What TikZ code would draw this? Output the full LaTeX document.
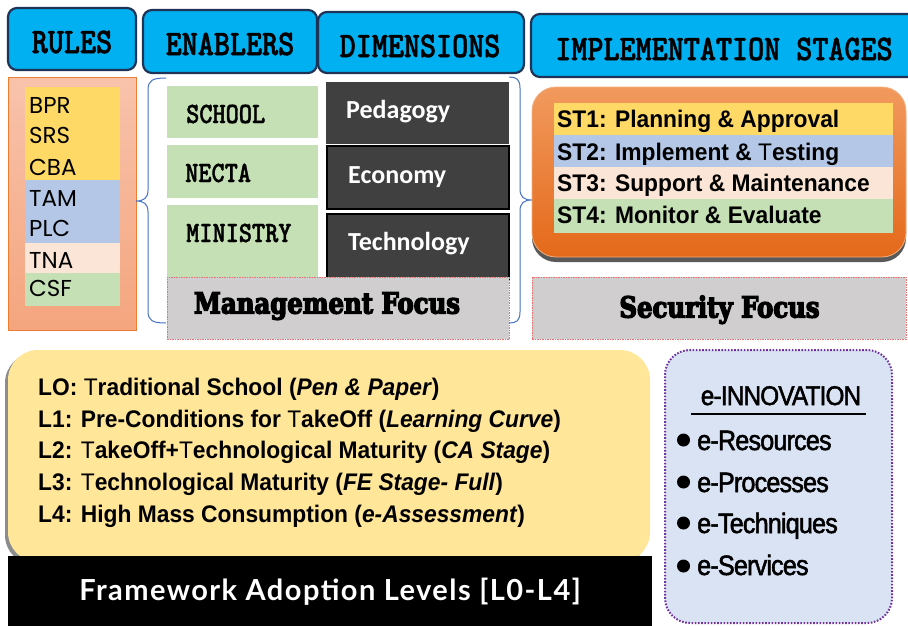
\documentclass[tikz,border=0pt]{standalone}
\usepackage{fontspec}
\usepackage{graphicx}
\usetikzlibrary{shadows}
\setmainfont{Liberation Sans}
\newfontfamily\hdrfont{lmmonolt10-bold.otf}[FakeStretch=0.85]
\newfontfamily\rulefont{Poppins}
\newfontfamily\dimfont{Carlito}
\newfontfamily\focusfont{DejaVu Serif Bold}[FakeStretch=0.84]
\newfontfamily\stfont{Liberation Sans}[FakeStretch=0.95]
\newfontfamily\levelfont{Liberation Sans}[FakeStretch=0.95]
\newfontfamily\fwfont{Lato}[LetterSpace=5]
\newfontfamily\innofont{Liberation Sans}[FakeStretch=0.9,LetterSpace=-3]
\newcommand\heavytext[2][1.3]{\special{pdf:literal direct 2 Tr #1 w}#2\special{pdf:literal direct 0 Tr}}
\definecolor{hdrfill}{HTML}{00B0F0}
\definecolor{hdrline}{HTML}{1F3356}
\definecolor{ruleTop}{HTML}{F8C3AC}
\definecolor{ruleBot}{HTML}{F4A57E}
\definecolor{ruleLine}{HTML}{ED7D31}
\definecolor{cYel}{HTML}{FFD966}
\definecolor{cBlu}{HTML}{B4C7E7}
\definecolor{cPea}{HTML}{FBE5D6}
\definecolor{cGrn}{HTML}{C5E0B4}
\definecolor{dimfill}{HTML}{404040}
\definecolor{focfill}{HTML}{D0CECE}
\definecolor{focline}{HTML}{F07070}
\definecolor{orTop}{HTML}{F19A5E}
\definecolor{orBot}{HTML}{E4691A}
\definecolor{lvlfill}{HTML}{FFE699}
\definecolor{innofill}{HTML}{DAE3F3}
\definecolor{innoline}{HTML}{7030A0}
\definecolor{braceblue}{HTML}{4472C4}
\tikzset{
  box/.style={anchor=north west, inner sep=0pt, outer sep=0pt},
  hdr/.style={box, draw=hdrline, line width=2.2pt, fill=hdrfill, rounded corners=9pt},
  hdrtxt/.style={anchor=base, inner sep=0pt, text=black, font=\hdrfont\fontsize{36pt}{36pt}\selectfont},
  entxt/.style={anchor=base west, inner sep=0pt, text=black, font=\hdrfont\fontsize{29.5pt}{30pt}\selectfont},
  ruletxt/.style={anchor=base west, inner sep=0pt, font=\rulefont\fontsize{23pt}{24pt}\selectfont},
  dimtxt/.style={anchor=base west, inner sep=0pt, text=white, font=\dimfont\bfseries\fontsize{26pt}{27pt}\selectfont},
  focbox/.style={box, fill=focfill, draw=focline, line width=0.6pt, dash pattern=on 1.5pt off 1pt},
  foctxt/.style={anchor=base, inner sep=0pt, text=black, font=\focusfont\fontsize{29pt}{30pt}\selectfont},
  sttxt/.style={anchor=base west, inner sep=0pt, font=\stfont\bfseries\fontsize{24pt}{25pt}\selectfont},
  lvltxt/.style={anchor=base west, inner sep=0pt, font=\levelfont\bfseries\fontsize{24pt}{25pt}\selectfont},
  innotxt/.style={anchor=base west, inner sep=0pt, text=black, font=\innofont\fontsize{28pt}{28pt}\selectfont},
  bullet/.style={circle, fill=black, inner sep=0pt, minimum size=13pt},
  bracepath/.style={draw=braceblue, line width=1pt}
}
\begin{document}
\begin{tikzpicture}[x=1pt,y=-1pt]
\useasboundingbox (0,0) rectangle (908,625);
% ---------- headers
\node[hdr, minimum width=128pt, minimum height=62pt] (hRules) at (8,8) {};
\node[hdr, minimum width=174pt, minimum height=63pt] (hEnab) at (143,10) {};
\node[hdr, minimum width=206pt, minimum height=61pt] (hDim) at (318,12) {};
\node[hdr, minimum width=390pt, minimum height=63pt] (hImpl) at (531,14) {};
\node[hdrtxt] (tRules) at (72,53) {\heavytext[0.5]{RULES}};
\node[hdrtxt] (tEnab) at (230,55) {\heavytext[0.5]{ENABLERS}};
\node[hdrtxt] (tDim) at (420,57) {\heavytext[0.5]{DIMENSIONS}};
\node[hdrtxt] (tImpl) at (724,60) {\heavytext[0.5]{IMPLEMENTATION STAGES}};
% ---------- rules column
\node[box, draw=ruleLine, line width=0.8pt, top color=ruleTop, bottom color=ruleBot, minimum width=128pt, minimum height=253pt] (rulesBody) at (8,77) {};
\node[box, fill=cYel, minimum width=95pt, minimum height=93pt] (rY) at (25,87) {};
\node[box, fill=cBlu, minimum width=95pt, minimum height=63pt] (rB) at (25,180) {};
\node[box, fill=cPea, minimum width=95pt, minimum height=30pt] (rP) at (25,243) {};
\node[box, fill=cGrn, minimum width=95pt, minimum height=33pt] (rG) at (25,273) {};
\node[ruletxt] (tBPR) at (29,113) {BPR};
\node[ruletxt] (tSRS) at (29,143.5) {SRS};
\node[ruletxt] (tCBA) at (29,175.5) {CBA};
\node[ruletxt] (tTAM) at (29,206.5) {TAM};
\node[ruletxt] (tPLC) at (29,236.5) {PLC};
\node[ruletxt] (tTNA) at (29,268.5) {TNA};
\node[ruletxt] (tCSF) at (29,296.5) {CSF};
% ---------- enablers
\node[box, fill=cGrn, minimum width=151pt, minimum height=52pt] (eS) at (167,86) {};
\node[box, fill=cGrn, minimum width=151pt, minimum height=53pt] (eN) at (167,145) {};
\node[box, fill=cGrn, minimum width=151pt, minimum height=72pt] (eM) at (167,205) {};
\node[entxt] (tSchool) at (186,123) {\heavytext[0.4]{SCHOOL}};
\node[entxt] (tNecta) at (185,182) {\heavytext[0.4]{NECTA}};
\node[entxt] (tMin) at (186,242) {\heavytext[0.4]{MINISTRY}};
% ---------- dimensions
\node[box, fill=dimfill, minimum width=183pt, minimum height=62pt] (dP) at (326,82) {};
\node[box, fill=dimfill, draw=black, line width=2pt, minimum width=182pt, minimum height=63pt] (dE) at (327,146) {};
\node[box, fill=dimfill, draw=black, line width=2pt, minimum width=182pt, minimum height=66pt] (dT) at (327,214) {};
\node[dimtxt] (tPed) at (346,118.5) {Pedagogy};
\node[dimtxt] (tEco) at (348,183.5) {Economy};
\node[dimtxt] (tTec) at (348,250.5) {Technology};
% ---------- focus boxes
\node[focbox, minimum width=342pt, minimum height=62pt] (mFocus) at (167,277) {};
\node[foctxt] (tMF) at (327,313.5) {\heavytext{Management Focus}};
\node[focbox, minimum width=374pt, minimum height=62pt] (sFocus) at (532,277) {};
\node[foctxt] (tSF) at (719.5,317.5) {\heavytext{Security Focus}};
% ---------- braces
\coordinate (lbT) at (166,78);
\coordinate (lbM) at (136,201);
\coordinate (lbB) at (166,323);
\draw[bracepath] (lbT) .. controls (153,78) and (148,80) .. (148,90) -- (148,190)
   .. controls (148,198) and (144,201) .. (lbM)
   .. controls (144,201) and (148,204) .. (148,212) -- (148,311)
   .. controls (148,321) and (153,323) .. (lbB);
\coordinate (rbT) at (509,77);
\coordinate (rbM) at (532,200);
\coordinate (rbB) at (509,323);
\draw[bracepath] (rbT) .. controls (516,77) and (520,79) .. (520,88) -- (520,189)
   .. controls (520,197) and (524,200) .. (rbM)
   .. controls (524,200) and (520,203) .. (520,211) -- (520,312)
   .. controls (520,321) and (516,323) .. (rbB);
% ---------- implementation stages
\node[box, rounded corners=24pt, top color=orTop, bottom color=orBot, draw=orTop!80!white, line width=0.8pt,
      drop shadow={shadow xshift=0pt, shadow yshift=-5pt, fill=black!65, opacity=1},
      minimum width=374pt, minimum height=170pt] (orBox) at (532,87) {};
\node[box, fill=cYel, minimum width=339pt, minimum height=32pt] (sY) at (554,103) {};
\node[box, fill=cBlu, minimum width=339pt, minimum height=32pt] (sB) at (554,135) {};
\node[box, fill=cPea, minimum width=339pt, minimum height=32pt] (sP) at (554,167) {};
\node[box, fill=cGrn, minimum width=339pt, minimum height=34pt] (sG) at (554,199) {};
\node[sttxt] (tST1) at (557,127.5) {ST1: Planning \& Approval};
\node[sttxt] (tST2) at (557,160.5) {ST2: Implement \& {\mdseries T}esting};
\node[sttxt] (tST3) at (557,191.5) {ST3: Support \& Maintenance};
\node[sttxt] (tST4) at (557,223.5) {ST4: Monitor \& Evaluate};
% ---------- adoption levels
\node[box, rounded corners=30pt, fill=lvlfill,
      drop shadow={shadow xshift=-3pt, shadow yshift=-3pt, fill=black!45, opacity=1},
      minimum width=642pt, minimum height=212pt] (lvlBox) at (8,350) {};
\node[box, fill=black, minimum width=644pt, minimum height=70pt] (fwBar) at (8,556) {};
\node[lvltxt] (tL0) at (38,395) {LO: {\mdseries T}raditional School (\textit{Pen \& Paper})};
\node[lvltxt] (tL1) at (38,427) {L1: Pre-Conditions for {\mdseries T}akeOff (\textit{Learning Curve})};
\node[lvltxt] (tL2) at (38,458) {L2: {\mdseries T}akeOff+{\mdseries T}echnological Maturity (\textit{CA Stage})};
\node[lvltxt] (tL3) at (38,490) {L3: {\mdseries T}echnological Maturity (\textit{FE Stage- Full})};
\node[lvltxt] (tL4) at (38,522) {L4: High Mass Consumption (\textit{e-Assessment})};
\node[anchor=base, inner sep=0pt, text=white, font=\fwfont\bfseries\fontsize{29pt}{30pt}\selectfont] (tFw) at (330,600.5) {Framework Adoption Levels [L0-L4]};
% ---------- e-innovation
\node[box, rounded corners=25pt, fill=innofill, draw=innoline, line width=2pt, dash pattern=on 1.6pt off 1.6pt,
      minimum width=227pt, minimum height=273pt] (innoBox) at (665,350) {};
\node[anchor=base, inner sep=0pt, text=black, font=\innofont\fontsize{27pt}{27pt}\selectfont] (tInno) at (781,405) {\heavytext[0.5]{e-INNOVATION}};
\coordinate (ulA) at (691,414);
\coordinate (ulB) at (866,414);
\draw[line width=1.5pt] (ulA) -- (ulB);
\node[bullet] (b1) at (683.5,440) {};
\node[bullet] (b2) at (683.5,482) {};
\node[bullet] (b3) at (683.5,523) {};
\node[bullet] (b4) at (683.5,566) {};
\node[innotxt] (tI1) at (697,450) {\heavytext[0.5]{e-Resources}};
\node[innotxt] (tI2) at (697,492) {\heavytext[0.5]{e-Processes}};
\node[innotxt] (tI3) at (697,533) {\heavytext[0.5]{e-Techniques}};
\node[innotxt] (tI4) at (697,575) {\heavytext[0.5]{e-Services}};
\end{tikzpicture}
\end{document}
